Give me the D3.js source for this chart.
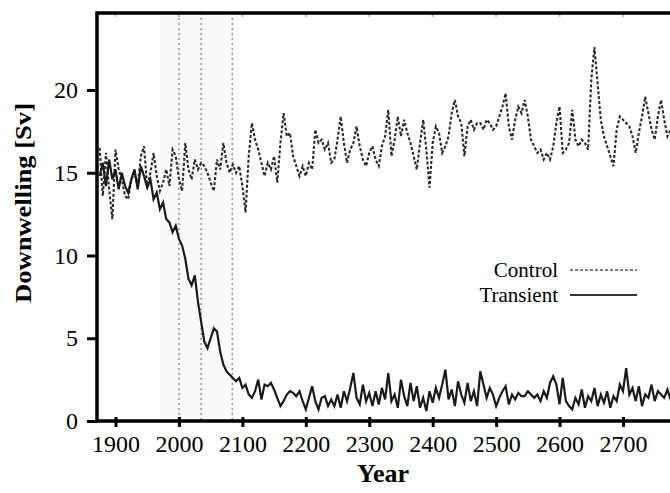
<!DOCTYPE html>
<html><head><meta charset="utf-8">
<script src="https://cdn.jsdelivr.net/npm/d3@7"></script>
<style>body{margin:0;background:#fff}svg{display:block}</style>
</head><body>
<script>
const startYear = 1875, stepYears = 5;
const control = [16.5,13.6,16.2,14.0,12.2,16.4,15.2,14.6,13.6,13.4,14.6,15.0,14.2,16.0,16.6,14.1,15.0,16.2,14.8,13.9,
14.4,15.2,14.2,16.4,16.0,14.6,13.9,16.8,15.2,14.6,15.8,15.2,15.6,15.4,15.0,14.4,13.9,15.8,15.2,16.8,
15.6,15.0,15.5,15.0,15.4,14.2,12.6,16.0,18.0,17.0,16.4,15.6,14.8,15.6,15.2,16.0,14.4,16.8,18.6,17.2,
17.4,16.0,15.4,14.8,15.4,14.8,15.6,15.2,17.6,16.8,17.0,16.4,16.8,15.6,15.8,17.0,18.4,16.8,15.6,16.4,
16.8,17.8,16.6,15.8,15.4,16.2,16.6,15.8,15.4,16.6,17.2,18.8,16.0,17.0,18.4,17.2,18.2,17.4,16.8,16.0,
15.2,16.8,18.2,16.4,14.1,16.8,17.8,17.4,16.2,16.6,17.2,18.6,19.4,18.4,18.0,16.0,17.8,18.2,17.6,18.0,
18.0,17.6,18.2,18.0,17.6,17.8,18.4,19.0,19.8,17.8,17.0,18.2,19.0,18.6,19.4,18.4,17.0,16.6,16.2,16.4,
15.8,16.2,15.8,16.6,18.0,19.0,16.2,16.4,16.8,18.8,17.0,16.6,17.0,16.8,16.4,20.6,22.6,20.4,18.2,17.2,
16.6,16.0,15.4,17.6,18.4,18.2,18.0,17.8,17.2,16.2,17.4,18.4,19.6,18.6,17.6,17.0,18.4,19.4,18.2,17.2,
17.6,17.8,17.0,17.4];
const transient = [14.8,15.6,14.2,15.8,14.6,15.2,14.0,15.0,14.2,13.8,14.6,15.2,14.0,15.4,14.8,14.1,14.6,13.4,13.8,12.8,
13.2,12.2,12.0,11.4,11.8,11.0,10.6,9.8,8.6,8.2,8.8,7.2,6.0,4.8,4.4,5.0,5.6,5.4,4.2,3.4,
3.0,2.8,2.6,2.4,2.6,2.0,2.2,1.6,1.4,1.8,2.5,1.3,2.2,2.1,2.3,1.9,1.4,0.9,1.2,1.6,
1.8,1.7,1.5,1.8,1.2,0.7,1.4,2.1,1.2,0.7,1.4,1.5,0.9,1.3,0.9,1.6,0.8,1.8,1.2,2.0,
2.9,1.4,1.0,2.2,1.2,1.7,0.9,1.8,1.0,2.0,1.3,2.9,1.2,1.6,0.8,2.5,1.5,0.9,2.3,1.2,
2.1,0.8,1.4,0.6,1.8,1.1,2.0,1.4,2.2,3.1,1.3,1.9,0.9,2.4,1.6,1.1,2.3,1.2,1.8,0.9,
3.0,2.2,1.4,2.0,1.6,0.9,1.4,1.8,2.1,1.0,1.6,1.3,1.7,1.5,1.5,1.8,1.6,1.4,1.6,1.2,
1.8,1.4,2.3,2.7,2.2,1.0,2.6,1.2,0.9,0.7,1.4,1.0,1.9,0.8,1.5,1.2,2.0,0.9,1.6,1.1,
1.8,0.8,1.5,1.2,2.2,1.8,3.2,1.6,2.0,1.2,2.1,0.9,1.6,1.4,2.2,1.2,1.8,1.6,1.4,1.9,
1.3,1.7,1.5,1.6];
const xTicks = [1900,2000,2100,2200,2300,2400,2500,2600,2700];
const yTicks = [0,5,10,15,20];
const markerYears = [2000,2035,2084];
const shadedYears = [1971,2087];
const seriesNames = ["Control","Transient"];

(function(){
const W = 670, H = 493;
const pL = 97, pR = 670, pT = 13, pB = 421;
const x = d3.scaleLinear().domain([1900,2700]).range([115.5,623]);
const y = d3.scaleLinear().domain([0,20]).range([421,90]);

const svg = d3.select("body").append("svg").attr("width",W).attr("height",H);
svg.append("defs").append("clipPath").attr("id","clip")
  .append("rect").attr("x",pL).attr("y",pT).attr("width",pR-pL).attr("height",pB-pT);

const plot = svg.append("g").attr("clip-path","url(#clip)");
plot.append("rect").attr("x",x(shadedYears[0])).attr("y",pT)
  .attr("width",x(shadedYears[1])-x(shadedYears[0])).attr("height",pB-pT)
  .attr("fill","#fafafa");
plot.selectAll("line.mk").data(markerYears).join("line").attr("class","mk")
  .attr("x1",d=>x(d)).attr("x2",d=>x(d)).attr("y1",pT).attr("y2",pB)
  .attr("stroke","#8a8a8a").attr("stroke-width",1.4).attr("stroke-dasharray","2,3");

const toPts = arr => arr.map((v,i)=>({yr:startYear+i*stepYears,v}));
const line = d3.line().x(d=>x(d.yr)).y(d=>y(d.v));
plot.append("path").datum(toPts(control)).attr("d",line)
  .attr("fill","none").attr("stroke","#2a2a2a").attr("stroke-width",2.1).attr("stroke-dasharray","3,2");
plot.append("path").datum(toPts(transient)).attr("d",line)
  .attr("fill","none").attr("stroke","#1a1a1a").attr("stroke-width",2.2);

svg.selectAll("line.tt").data(xTicks).join("line").attr("class","tt")
  .attr("x1",d=>x(d)).attr("x2",d=>x(d)).attr("y1",pT).attr("y2",pT+4)
  .attr("stroke","#bbb").attr("stroke-width",2);

const xAxis = d3.axisBottom(x).tickValues(xTicks).tickFormat(d3.format("d")).tickSize(6).tickPadding(8);
const gx = svg.append("g").attr("transform",`translate(0,${pB})`).call(xAxis);
gx.select(".domain").remove();
gx.selectAll(".tick line").attr("stroke","#000").attr("stroke-width",3).attr("y1",-4);
gx.selectAll("text").attr("font-family","'Liberation Serif', 'Times New Roman', serif")
  .attr("font-size",24).attr("fill","#000");

const yAxis = d3.axisLeft(y).tickValues(yTicks).tickSize(10).tickPadding(9);
const gy = svg.append("g").attr("transform",`translate(${pL},0)`).call(yAxis);
gy.select(".domain").remove();
gy.selectAll(".tick line").attr("stroke","#000").attr("stroke-width",3);
gy.selectAll("text").attr("font-family","'Liberation Serif', 'Times New Roman', serif")
  .attr("font-size",24).attr("fill","#000");

svg.append("path").attr("d",`M${pR+2},${pT}H${pL}V${pB}H${pR+2}`)
  .attr("fill","none").attr("stroke","#000").attr("stroke-width",3.5);

svg.append("text").attr("x",383).attr("y",482).attr("text-anchor","middle")
  .attr("font-family","'Liberation Serif', serif").attr("font-weight","bold").attr("font-size",26)
  .text("Year");
svg.append("text").attr("transform","translate(31,203) rotate(-90)").attr("text-anchor","middle")
  .attr("font-family","'Liberation Serif', serif").attr("font-weight","bold").attr("font-size",23)
  .attr("textLength",200).attr("lengthAdjust","spacingAndGlyphs")
  .text("Downwelling [Sv]");

const leg = svg.append("g");
const legY = [270, 295];
seriesNames.forEach((n,i)=>{
  leg.append("text").attr("x",558).attr("y",legY[i]+7).attr("text-anchor","end")
    .attr("font-family","'Liberation Serif', serif").attr("font-size",21).text(n);
  leg.append("line").attr("x1",570).attr("x2",637).attr("y1",legY[i]).attr("y2",legY[i])
    .attr("stroke", i===0 ? "#555" : "#333").attr("stroke-width", i===0?1.5:2.2)
    .attr("stroke-dasharray", i===0 ? "3,2" : null);
});
})();
</script>
</body></html>
